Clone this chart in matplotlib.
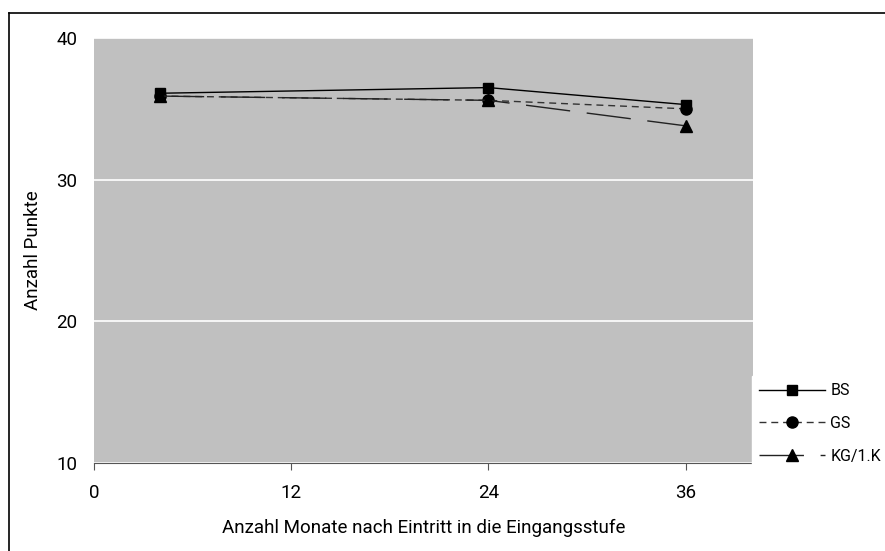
import matplotlib
matplotlib.use('Agg')
from matplotlib import pyplot as plt
from matplotlib.lines import Line2D

# Punktzahlen nach Monaten seit Eintritt
monate = [4, 24, 36]
bs = [36.1, 36.5, 35.3]
gs = [35.9, 35.6, 35.0]
kg = [35.9, 35.6, 33.8]
x_ticks = [0, 12, 24, 36]
y_ticks = [10, 20, 30, 40]

plt.rcParams['font.family'] = ['Roboto', 'DejaVu Sans']
plt.rcParams['font.size'] = 13.5

fig = plt.figure(figsize=(8.85, 5.51), dpi=100)
ax = fig.add_axes([94 / 885, 1 - 463 / 551, (753 - 94) / 885, (463 - 38) / 551])
ax.set_facecolor('#c0c0c0')

ax.plot(monate, bs, color='black', lw=1.0, marker='s', markersize=7.5, label='BS')
ax.plot(monate, gs, color='#333333', lw=1.0, dashes=(5, 3.5), marker='o',
        markersize=8, markerfacecolor='black', markeredgecolor='black', label='GS')
ax.plot(monate, kg, color='#222222', lw=1.0, dashes=(32, 12), marker='^',
        markersize=8.5, markerfacecolor='black', markeredgecolor='black', label='KG/1.K')

ax.set_xlim(0, 40.1)
ax.set_ylim(10, 40)
ax.set_xticks(x_ticks)
ax.set_yticks(y_ticks)
ax.grid(axis='y', color='white', lw=1.2)
ax.set_axisbelow(True)

for side in ['top', 'right', 'left']:
    ax.spines[side].set_visible(False)
ax.spines['bottom'].set_color('#555555')
ax.tick_params(axis='y', length=0, pad=12)
ax.tick_params(axis='x', length=5, color='#555555', pad=10)

ax.set_xlabel('Anzahl Monate nach Eintritt in die Eingangsstufe', labelpad=12)
ax.set_ylabel('Anzahl Punkte', labelpad=10)

leg = fig.legend(loc='upper left', bbox_to_anchor=(752 / 885, 1 - 376 / 551),
                 frameon=True, fancybox=False, edgecolor='white', facecolor='white',
                 framealpha=1, fontsize=11.5, handlelength=4.1, handletextpad=0.35,
                 labelspacing=1.12, borderpad=0.45, borderaxespad=0)

# Rahmen oben und links
fig.add_artist(Line2D([9 / 885, 9 / 885], [0, 1 - 13 / 551], color='black', lw=1.2))
fig.add_artist(Line2D([9 / 885, 1], [1 - 13 / 551, 1 - 13 / 551], color='black', lw=1.2))

fig.savefig('out.png', dpi=100)
